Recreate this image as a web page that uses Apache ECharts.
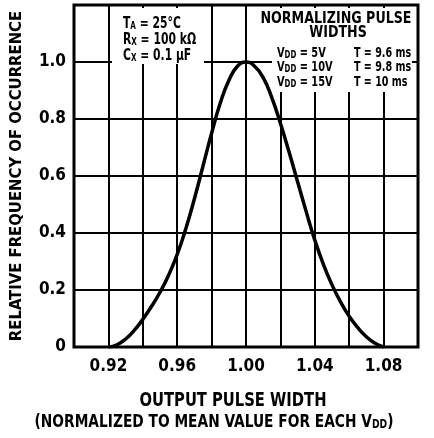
<!DOCTYPE html>
<html>
<head>
<meta charset="utf-8">
<script src="https://cdn.jsdelivr.net/npm/echarts@6/dist/echarts.min.js"></script>
<style>
  html, body { margin: 0; padding: 0; background: #fff; }
  #main { width: 434px; height: 438px; }
</style>
</head>
<body>
<div id="main"></div>
<script>
// normalized pulse width vs relative frequency
const pulseWidth = [0.920, 0.925, 0.930, 0.935, 0.940, 0.945, 0.950, 0.955, 0.960, 0.965, 0.970, 0.975, 0.980, 0.985, 0.990, 0.995, 1.000,
  1.005, 1.010, 1.015, 1.020, 1.025, 1.030, 1.035, 1.040, 1.045, 1.050, 1.055, 1.060, 1.065, 1.070, 1.075, 1.080]
const frequency = [0, 0.008, 0.028, 0.058, 0.097, 0.142, 0.192, 0.252, 0.325, 0.415, 0.52, 0.635, 0.75, 0.855, 0.935, 0.985, 1.00,
  0.985, 0.945, 0.875, 0.785, 0.685, 0.58, 0.475, 0.375, 0.29, 0.218, 0.158, 0.108, 0.068, 0.036, 0.013, 0]
const xLabels = ['0.92', '0.96', '1.00', '1.04', '1.08']
const yLabels = ['0', '0.2', '0.4', '0.6', '0.8', '1.0']

const FONT = '"DejaVu Sans Condensed", "DejaVu Sans", sans-serif'
const chart = echarts.init(document.getElementById('main'))

// condensed look: squeeze text horizontally
const txt = (x, y, text, opts) => {
  const o = opts || {}
  const size = o.size || 16
  return {
    type: 'text',
    x: x,
    y: y,
    z: 101,
    scaleX: o.scale || 0.88,
    style: {
      text: text,
      fill: '#000',
      font: 'bold ' + size + 'px ' + FONT,
      align: o.align || 'left',
      verticalAlign: 'middle',
      rich: { s: { fontSize: o.sub || 10, fontWeight: 'bold', fontFamily: FONT, verticalAlign: 'bottom' } }
    }
  }
}
const mask = (x, y, w, h) => ({
  type: 'rect',
  z: 100,
  shape: { x: x, y: y, width: w, height: h },
  style: { fill: '#fff' }
})

const option = {
  animation: false,
  grid: {
    left: 74,
    right: 16,
    top: 5,
    bottom: 91,
    show: true,
    borderColor: '#000',
    borderWidth: 3
  },
  xAxis: {
    type: 'value',
    min: 0.9,
    max: 1.1,
    interval: 0.02,
    axisLine: { show: false },
    axisTick: { show: false },
    splitLine: { lineStyle: { color: '#000', width: 2 } },
    axisLabel: {
      margin: 11,
      color: '#000',
      fontWeight: 'bold',
      fontSize: 17,
      fontFamily: FONT,
      formatter: v => {
        const s = v.toFixed(2)
        return xLabels.includes(s) ? s : ''
      }
    }
  },
  yAxis: {
    type: 'value',
    min: 0,
    max: 1.2,
    interval: 0.2,
    name: 'RELATIVE FREQUENCY OF OCCURRENCE',
    nameLocation: 'middle',
    nameGap: 49,
    nameTextStyle: { color: '#000', fontWeight: 'bold', fontSize: 16.5, fontFamily: FONT },
    axisLine: { show: false },
    axisTick: { show: false },
    splitLine: { lineStyle: { color: '#000', width: 2 } },
    axisLabel: {
      margin: 8,
      color: '#000',
      fontWeight: 'bold',
      fontSize: 17,
      fontFamily: FONT,
      formatter: v => {
        const s = v === 0 ? '0' : v.toFixed(1)
        return yLabels.includes(s) ? s : ''
      }
    }
  },
  graphic: [
    mask(112, 8, 92, 56),
    mask(250, 8, 164, 48),
    mask(272, 56, 140, 36),
    txt(123, 24, 'T{s|A} = 25°C', { size: 15, scale: 0.8 }),
    txt(123, 40, 'R{s|X} = 100 kΩ', { size: 15, scale: 0.8 }),
    txt(123, 56, 'C{s|X} = 0.1 μF', { size: 15, scale: 0.8 }),
    txt(336, 19, 'NORMALIZING PULSE', { align: 'center' }),
    txt(338, 33, 'WIDTHS', { align: 'center' }),
    txt(277, 53, 'V{s|DD} = 5V', { size: 14, scale: 0.78 }),
    txt(277, 67, 'V{s|DD} = 10V', { size: 14, scale: 0.78 }),
    txt(277, 82, 'V{s|DD} = 15V', { size: 14, scale: 0.78 }),
    txt(354, 53, 'T = 9.6 ms', { size: 14, scale: 0.76 }),
    txt(354, 67, 'T = 9.8 ms', { size: 14, scale: 0.76 }),
    txt(354, 82, 'T = 10 ms', { size: 14, scale: 0.76 }),
    txt(233, 401, 'OUTPUT PULSE WIDTH', { align: 'center', size: 20, scale: 0.82 }),
    txt(214, 422, '(NORMALIZED TO MEAN VALUE FOR EACH V{s|DD})', { align: 'center', size: 18, scale: 0.85, sub: 12 })
  ],
  series: [
    {
      type: 'line',
      smooth: 0.5,
      showSymbol: false,
      lineStyle: { color: '#000', width: 3.5 },
      data: pulseWidth.map((x, i) => [x, frequency[i]])
    }
  ]
}
chart.setOption(option)
</script>
</body>
</html>
